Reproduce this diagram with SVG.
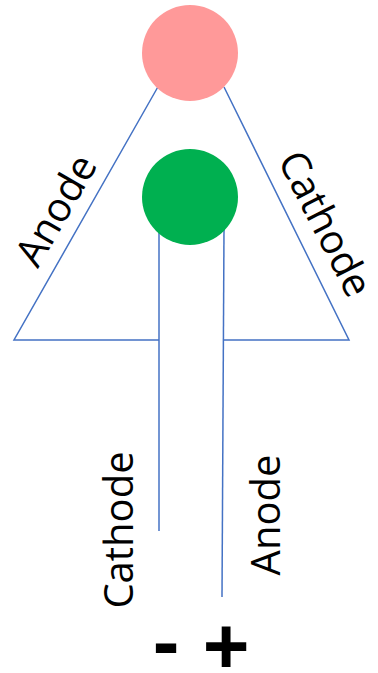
<svg xmlns="http://www.w3.org/2000/svg" width="378" height="673" viewBox="0 0 378 673">
<style>
.w{fill:none;stroke:#4472C4;stroke-width:1.5}
.t{font-family:"Open Sans","Liberation Sans",Arial,sans-serif;font-size:40px;fill:#000;text-anchor:middle}
.s{font-family:"Liberation Sans",Arial,sans-serif;font-weight:bold;font-size:80px;fill:#000;text-anchor:middle}
</style>
<rect width="378" height="673" fill="#fff"/>
<g id="connectors">
<polyline class="w" points="159,85 14,340 159,340"/>
<line class="w" x1="159" y1="229" x2="159" y2="531"/>
<polyline class="w" points="224,87 349,340 223,340"/>
<line class="w" x1="224" y1="229" x2="222" y2="597"/>
</g>
<g id="led-red"><circle cx="190" cy="53" r="48" fill="#FF9999"/></g>
<g id="led-green"><circle cx="190" cy="197" r="48" fill="#00B050"/></g>
<g id="labels">
<text class="t" transform="translate(68,217) rotate(-60)">Anode</text>
<text class="t" transform="translate(313,230) rotate(63)">Cathode</text>
<text class="t" transform="translate(133,530) rotate(-90)">Cathode</text>
<text class="t" transform="translate(280,515) rotate(-90)">Anode</text>
<text class="s" x="166" y="669">-</text>
<text class="s" x="226" y="673">+</text>
</g>
</svg>
